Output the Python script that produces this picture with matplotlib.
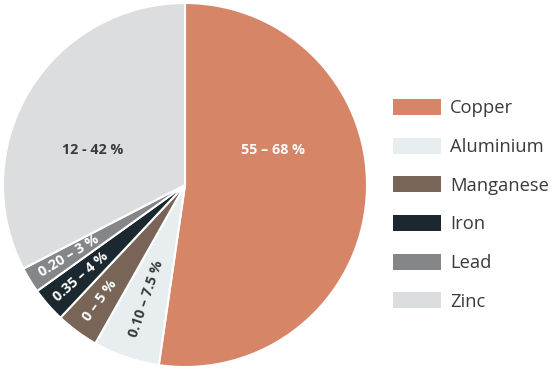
import matplotlib
matplotlib.use("Agg")
import matplotlib.pyplot as plt
import matplotlib.patches as mpatches
import numpy as np

plt.rcParams['font.family'] = ['Open Sans', 'DejaVu Sans']

categories = ["Copper", "Aluminium", "Manganese", "Iron", "Lead", "Zinc"]
values = [52.3, 5.9, 3.8, 3.1, 2.3, 32.6]
labels = ["55 – 68 %", "0.10 – 7.5 %", "0 – 5 %", "0.35 – 4 %", "0.20 – 3 %", "12 - 42 %"]
colors = ["#D68567", "#E8EDEF", "#786557", "#1C2830", "#858687", "#DCDDDF"]
label_colors = ["white", "#3a3a3a", "white", "white", "white", "#3a3a3a"]
label_radius = [0.52, 0.66, 0.79, 0.76, 0.75, 0.54]
# fixed positions for the two big labels (others placed along the wedge middle)
label_fixed = {0: (0.484, 0.192), 5: (-0.505, 0.192)}
rotate = [False, True, True, True, True, False]

W, H = 552, 372
fig = plt.figure(figsize=(W / 100, H / 100), dpi=100)
cx, cy, R = 185, 185, 182
ax = fig.add_axes([(cx - R) / W, (H - cy - R) / H, 2 * R / W, 2 * R / H])
wedges, _ = ax.pie(values, colors=colors, startangle=90, counterclock=False,
                   radius=1, wedgeprops=dict(edgecolor="white", linewidth=1.5))
ax.set_xlim(-1, 1)
ax.set_ylim(-1, 1)
ax.set_aspect("equal")
ax.axis("off")

for i, (w, lab, lc, lr, rot) in enumerate(zip(wedges, labels, label_colors, label_radius, rotate)):
    mid = np.deg2rad((w.theta1 + w.theta2) / 2)
    if i in label_fixed:
        x, y = label_fixed[i]
    else:
        x, y = lr * np.cos(mid), lr * np.sin(mid)
    r = 0
    if rot:
        r = np.rad2deg(mid) + 180
        r = (r + 180) % 360 - 180
    ax.text(x, y, lab, ha="center", va="center", rotation=r, rotation_mode="anchor",
            color=lc, fontsize=10.3, fontweight="bold")

handles = [mpatches.Patch(facecolor=c, edgecolor="none") for c in colors]
fig.legend(handles, categories, loc="upper left",
           bbox_to_anchor=(393 / W, 1 - 99 / H), frameon=False,
           fontsize=13.2, handlelength=2.6, handleheight=0.97,
           handletextpad=0.5, labelspacing=1.11, borderpad=0, borderaxespad=0,
           labelcolor="#3a3a3a")

fig.savefig("out.png", dpi=100)
